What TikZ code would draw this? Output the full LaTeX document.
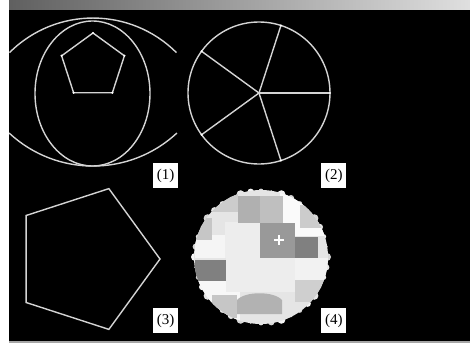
\documentclass[tikz,border=0pt]{standalone}
\usepackage{fontspec}
\setmainfont{Liberation Serif}
\usetikzlibrary{positioning,calc}

\definecolor{wirec}{HTML}{D4D4D4}

\begin{document}
\begin{tikzpicture}[x=1pt, y=-1pt,
  wire/.style={draw=wirec, line width=1.4pt},
  tag/.style={fill=white, minimum width=25pt, minimum height=25pt, inner sep=0pt, font=\fontsize{15}{15}\selectfont},
  joint/.style={circle, fill=white, inner sep=0pt, minimum size=2.4pt},
  cell/.style={fill=gray!#1},
]
\useasboundingbox (0,0) rectangle (470,343);
\fill[white] (0,0) rectangle (470,343);

% window frame
\shade[left color=gray!75!black, right color=gray!25] (9,0) rectangle (470,10);
\fill[black] (9,10) rectangle (470,341);
\fill[gray!70] (9,341) rectangle (470,343);

% (1) workspace
\coordinate (c1) at (93,66);
\begin{scope}
  \clip (9,10) rectangle (470,341);
  \draw[wire] (176.4,52.6) arc[start angle=-45, end angle=-135, radius=118];
  \draw[wire] (176.9,133) arc[start angle=47, end angle=133, radius=123];
\end{scope}
\draw[wire] (92.5,93.5) ellipse[x radius=57.5, y radius=72.5];
\foreach \k [count=\i] in {-90,-18,54,126,198}
  \coordinate (p\i) at ($(c1)+(\k:33)$);
\draw[wire] (p1) -- (p2) -- (p3) -- (p4) -- (p5) -- cycle;
\foreach \i in {1,...,5} \node[joint] at (p\i) {};
\node[tag] (tag1) at (165.5,175.5) {(1)};

% (2) spokes
\coordinate (c2) at (259,93);
\draw[wire] (c2) circle[radius=71];
\foreach \k [count=\i] in {0,-72,-144,-216,-288} {
  \coordinate (s\i) at ($(c2)+(\k:71)$);
  \draw[wire] (c2) -- (s\i);
  \node[joint] at (s\i) {};
}
\node[tag, right=143pt of tag1] (tag2) {(2)};

% (3) big pentagon
\coordinate (c3) at (86,259);
\foreach \k [count=\i] in {0,72,144,216,288}
  \coordinate (q\i) at ($(c3)+(\k:74)$);
\draw[wire] (q1) -- (q2) -- (q3) -- (q4) -- (q5) -- cycle;
\node[tag] (tag3) at (165.5,320.5) {(3)};

% (4) free space map
\coordinate (c4) at (261,257);
\foreach \k [count=\i] in {0,9,...,351} {
  \pgfmathsetmacro\br{1.6+mod(\i*7,4)*0.8}
  \pgfmathsetmacro\bg{mod(\i*5,3)*12+8}
  \fill[gray!\bg] ($(c4)+(\k:66)$) circle[radius=\br];
}
\begin{scope}
  \clip (c4) circle[radius=67];
  \fill[gray!20] (190,185) rectangle (335,330);
  \fill[gray!4] (280,190) rectangle (330,236);
  \fill[gray!8] (195,235) rectangle (226,258);
  \fill[gray!6] (195,281) rectangle (240,330);
  \fill[cell=14] (225,222) rectangle (260,258);
  \fill[cell=14] (226,258) rectangle (295,292);
  \fill[cell=10] (295,258) rectangle (330,280);
  \fill[cell=62] (238,196) rectangle (260,223);
  \fill[cell=50] (260,196) rectangle (283,223);
  \fill[cell=80] (260,223) rectangle (295,258);
  \fill[cell=100] (295,237) rectangle (318,258);
  \fill[cell=100] (195,260) rectangle (226,281);
  \fill[cell=45] (190,218) rectangle (212,240);
  \fill[cell=40] (212,190) rectangle (238,212);
  \fill[cell=38] (295,280) rectangle (330,302);
  \fill[cell=60] (237,314) -- (237,300) .. controls (245,291) and (274,291) .. (282,300) -- (282,314) -- cycle;
  \fill[cell=45] (212,295) rectangle (237,318);
  \fill[cell=40] (300,205) rectangle (325,228);
\end{scope}
\draw[white, line width=1.5pt] (274,240) -- (284,240) (279,235) -- (279,245);
\node[tag, right=143pt of tag3] (tag4) {(4)};

\end{tikzpicture}
\end{document}
